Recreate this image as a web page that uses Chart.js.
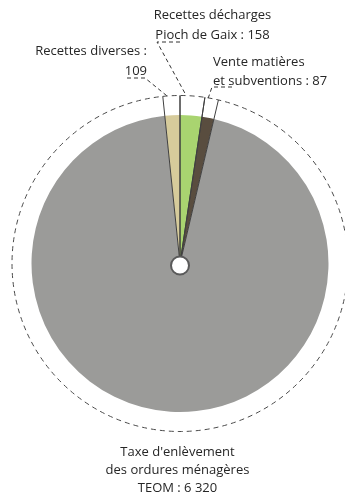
<!DOCTYPE html>
<html lang="fr">
<head>
<meta charset="utf-8">
<script src="https://cdn.jsdelivr.net/npm/chart.js@4/dist/chart.umd.min.js"></script>
<style>
  html, body { margin: 0; padding: 0; background: #fff; }
  #wrap { width: 345px; height: 494px; }
</style>
</head>
<body>
<div id="wrap"><canvas id="pie" width="345" height="494"></canvas></div>
<script>
// Recettes du budget déchets (k€)
const categories = [
  'Recettes diverses',
  'Recettes décharges Pioch de Gaix',
  'Vente matières et subventions',
  "Taxe d'enlèvement des ordures ménagères TEOM"
];
const values = [109, 158, 87, 6320];
const sliceColors = ['#d6cb9b', '#a9d470', '#594d3f', '#9b9b99'];

// Text shown next to each slice, the value is appended from `values`
const labelLines = [
  ['Recettes diverses :', ''],
  ['Recettes décharges', 'Pioch de Gaix : '],
  ['Vente matières', 'et subventions : '],
  ["Taxe d'enlèvement", 'des ordures ménagères', 'TEOM : ']
];

function fmt(v) {
  return String(v).replace(/\B(?=(\d{3})+(?!\d))/g, ' ');
}

const total = values.reduce((a, b) => a + b, 0);

// Label placement: x/y of the first line, alignment, line height,
// and the dashed underline (x start, x end, y) the leader starts from
const labelLayout = [
  { x: 147, y: 51, align: 'right', lh: 20, under: [127, 145, 78] },
  { x: 212.5, y: 15, align: 'center', lh: 20, under: [180, 157, 42] },
  { x: 213, y: 62, align: 'left', lh: 19, under: [232, 212, 87] },
  { x: 177.5, y: 452, align: 'center', lh: 18, under: null }
];

const PIE_R = 148.5;
const RING_R = 168;

const decorations = {
  id: 'decorations',
  afterDatasetsDraw(chart) {
    const ctx = chart.ctx;
    const arcs = chart.getDatasetMeta(0).data;
    const cx = arcs[0].x, cy = arcs[0].y;
    ctx.save();

    // outer dashed ring
    ctx.strokeStyle = '#4a4a4a';
    ctx.lineWidth = 1;
    ctx.setLineDash([5, 4]);
    ctx.beginPath();
    ctx.arc(cx, cy, RING_R, 0, Math.PI * 2);
    ctx.stroke();

    // slice boundary rays for the small slices
    ctx.setLineDash([]);
    ctx.strokeStyle = '#3f3f3f';
    const rays = [];
    for (let i = 0; i < 3; i++) {
      rays.push(arcs[i].startAngle, arcs[i].endAngle);
    }
    rays.forEach(a => {
      ctx.beginPath();
      ctx.moveTo(cx, cy);
      ctx.lineTo(cx + Math.cos(a) * RING_R, cy + Math.sin(a) * RING_R);
      ctx.stroke();
    });

    // leaders from label underline to ring
    ctx.setLineDash([4, 3]);
    ctx.strokeStyle = '#333';
    for (let i = 0; i < 3; i++) {
      const L = labelLayout[i];
      const a = arcs[i].startAngle + (arcs[i].endAngle - arcs[i].startAngle) * 0.25;
      const ex = cx + Math.cos(a) * RING_R, ey = cy + Math.sin(a) * RING_R;
      ctx.beginPath();
      ctx.moveTo(L.under[0], L.under[2]);
      ctx.lineTo(L.under[1], L.under[2]);
      ctx.lineTo(ex, ey);
      ctx.stroke();
    }

    // labels
    ctx.setLineDash([]);
    ctx.fillStyle = '#262626';
    ctx.font = '13px "Open Sans", "Noto Sans", sans-serif';
    ctx.textBaseline = 'middle';
    labelLines.forEach((lines, i) => {
      const L = labelLayout[i];
      ctx.textAlign = L.align;
      lines.forEach((t, j) => {
        let s = t;
        if (j === lines.length - 1) s = t + fmt(values[i]);
        ctx.fillText(s, L.x, L.y + j * L.lh);
      });
    });

    // centre hub
    ctx.beginPath();
    ctx.arc(cx, cy + 2, 9, 0, Math.PI * 2);
    ctx.fillStyle = '#fff';
    ctx.fill();
    ctx.lineWidth = 2;
    ctx.strokeStyle = '#5a5a5a';
    ctx.stroke();

    ctx.restore();
  }
};

new Chart(document.getElementById('pie'), {
  type: 'pie',
  data: {
    labels: categories,
    datasets: [{
      data: values,
      backgroundColor: sliceColors,
      borderWidth: 0
    }]
  },
  options: {
    responsive: false,
    animation: false,
    rotation: -values[0] / total * 360,
    radius: PIE_R,
    layout: { padding: { left: 31.5, right: 16.5, top: 115, bottom: 82 } },
    plugins: {
      legend: { display: false },
      tooltip: { enabled: false }
    }
  },
  plugins: [decorations]
});
</script>
</body>
</html>
